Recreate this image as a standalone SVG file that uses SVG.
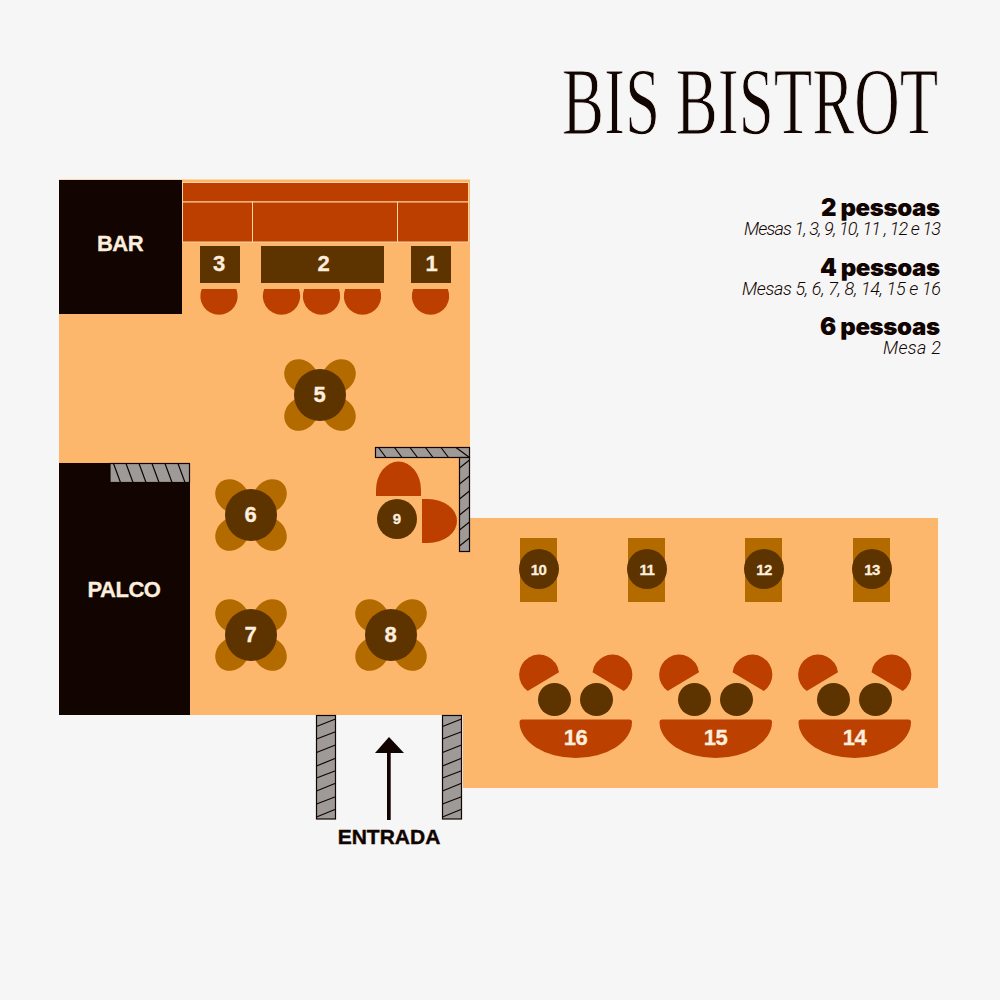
<svg xmlns="http://www.w3.org/2000/svg" width="1000" height="1000" viewBox="0 0 1000 1000">
<style>
.chair{fill:#bc3f00}
.tbl{fill:#5d3300}
.petal{fill:#b36b00}
.wall{fill:#9d9a97;stroke:#120400;stroke-width:1.2}
.hatch{fill:none;stroke:#120400;stroke-width:1.2}
.n{font-family:"Liberation Sans",Arial,sans-serif;font-weight:700;fill:#fdeedd;stroke:#fdeedd;stroke-width:.3;text-anchor:middle}
.big{font-size:22px}
.sm{font-size:15px}
.tight{letter-spacing:-.5px}
.h{font-family:Inter,"Liberation Sans",sans-serif;font-weight:900;font-size:24px;fill:#120400;text-anchor:end}
.i{font-family:Roboto,"Liberation Sans",sans-serif;font-style:italic;font-weight:300;font-size:18px;fill:#120400;text-anchor:end}
</style>
<defs>
<filter id="soft" x="-5%" y="-5%" width="110%" height="110%"><feGaussianBlur stdDeviation="0.7"/></filter>
<g id="petals">
<ellipse class="petal" rx="18" ry="15.500" transform="translate(-19 -19) rotate(45)"/>
<ellipse class="petal" rx="18" ry="15.500" transform="translate(19 -19) rotate(-45)"/>
<ellipse class="petal" rx="18" ry="15.500" transform="translate(-19 19) rotate(-45)"/>
<ellipse class="petal" rx="18" ry="15.500" transform="translate(19 19) rotate(45)"/>
<circle class="tbl" r="26"/>
</g>
<path id="stool" class="chair" d="M-17.300,0A18.700,18.700 0 1 0 17.300,0Z"/>
<g id="booth">
<path class="chair" d="M527.700,691A20,20 0 1 1 559,672.300Z"/>
<path class="chair" d="M592.500,672.300A20,20 0 1 1 623.800,691Z"/>
<circle class="tbl" cx="554.500" cy="699.500" r="16.500"/>
<circle class="tbl" cx="596.500" cy="699.500" r="16.500"/>
<path class="chair" filter="url(#soft)" d="M519.500,722Q519.500,719.500 522,719.500H629.500Q632,719.500 632,722A56.250,36 0 0 1 519.500,722Z"/>
</g>
<path id="rowtable" class="petal" d="M-18.500,-31H18.500V33H-18.500Z"/>
</defs>

<rect width="1000" height="1000" fill="#f6f6f6"/>
<path id="floor" fill="#fdb76d" d="M59,179.500H470V518H938V788H463V715H59Z"/>

<g id="title"><text transform="translate(562 134) scale(.663 1)" font-family="'Liberation Serif',serif" font-size="95" fill="#120400" stroke="#f6f6f6" stroke-width="1.1">BIS BISTROT</text></g>

<g id="legend">
<text class="h" x="940" y="216" textLength="119">2 pessoas</text>
<text class="i" x="941" y="235" textLength="197">Mesas 1, 3, 9, 10, 11 , 12 e 13</text>
<text class="h" x="940" y="276" textLength="120">4 pessoas</text>
<text class="i" x="941" y="295" textLength="199">Mesas 5, 6, 7, 8, 14, 15 e 16</text>
<text class="h" x="940" y="335" textLength="120">6 pessoas</text>
<text class="i" x="941" y="354" textLength="58">Mesa 2</text>
</g>

<g id="bar"><rect x="59" y="180" width="123" height="134" fill="#120400"/><text class="n big tight" x="120" y="250.500">BAR</text></g>
<g id="counter" fill="#bc3f00" stroke="#fdd3a5" stroke-width="1">
<rect x="182.500" y="182.500" width="286" height="19.500"/>
<rect x="182.500" y="202" width="70" height="40"/>
<rect x="252.500" y="202" width="145" height="40"/>
<rect x="397.500" y="202" width="71" height="40"/>
</g>

<g id="table-3"><rect class="tbl" x="200" y="246" width="40" height="37"/><text class="n big" x="219" y="271">3</text><use href="#stool" x="219" y="289"/></g>
<g id="table-2"><rect class="tbl" x="261" y="246" width="123" height="37"/><text class="n big" x="323.500" y="271">2</text><use href="#stool" x="281.500" y="289"/><use href="#stool" x="321.500" y="289"/><use href="#stool" x="362.500" y="289"/></g>
<g id="table-1"><rect class="tbl" x="411" y="246" width="40" height="37"/><text class="n big" x="431.500" y="271">1</text><use href="#stool" x="430.500" y="289"/></g>

<g id="table-5"><use href="#petals" x="320" y="395"/><text class="n big" x="319.500" y="401.500">5</text></g>

<g id="wall-9">
<rect class="wall" x="375.500" y="447.500" width="94" height="10"/>
<rect class="wall" x="459.500" y="457.500" width="10" height="94"/>
<path class="hatch" d="M378.500,447.500L386,457.500M394.500,447.500L402,457.500M410,447.500L417.500,457.500M425.500,447.500L433,457.500M441,447.500L448.500,457.500M456,447.500L469.500,457.500M459.500,468L469.500,460M459.500,484L469.500,476M459.500,499L469.500,491M459.500,515L469.500,507M459.500,530L469.500,522M459.500,546L469.500,538"/>
</g>

<g id="palco"><rect x="59" y="463" width="131" height="252" fill="#120400"/><text class="n big tight" x="124" y="596.500">PALCO</text>
<rect class="wall" x="110" y="463.500" width="79.500" height="19"/>
<path class="hatch" d="M113.500,463.500L120.500,482.500M126,463.500L133,482.500M139,463.500L146,482.500M152,463.500L159,482.500M165,463.500L172,482.500M178,463.500L185,482.500"/>
</g>

<g id="table-6"><use href="#petals" x="251" y="515"/><text class="n big" x="250.500" y="521.500">6</text></g>
<g id="table-7"><use href="#petals" x="251" y="635"/><text class="n big" x="250.500" y="641.500">7</text></g>
<g id="table-8"><use href="#petals" x="391" y="635"/><text class="n big" x="390.500" y="641.500">8</text></g>

<g id="table-9">
<path class="chair" d="M376,496V490A22.500,28.500 0 0 1 421,490V496Z"/>
<path class="chair" d="M422,499H428A29,22 0 0 1 428,543H422Z"/>
<circle class="tbl" cx="397" cy="519" r="20"/>
<text class="n sm" x="397" y="524">9</text>
</g>

<g id="table-10"><use href="#rowtable" x="538.500" y="569"/><circle class="tbl" cx="539" cy="569" r="20"/><text class="n sm tight" x="538.500" y="575">10</text></g>
<g id="table-11"><use href="#rowtable" x="646.500" y="569"/><circle class="tbl" cx="647" cy="569" r="20"/><text class="n sm tight" x="647" y="575">11</text></g>
<g id="table-12"><use href="#rowtable" x="763.500" y="569"/><circle class="tbl" cx="764" cy="569" r="20"/><text class="n sm tight" x="764" y="575">12</text></g>
<g id="table-13"><use href="#rowtable" x="871.500" y="569"/><circle class="tbl" cx="872" cy="569" r="20"/><text class="n sm tight" x="872" y="575">13</text></g>

<g id="table-16"><use href="#booth"/><text class="n big tight" x="575.500" y="745">16</text></g>
<g id="table-15"><use href="#booth" x="140"/><text class="n big tight" x="715.500" y="745">15</text></g>
<g id="table-14"><use href="#booth" x="279"/><text class="n big tight" x="854.500" y="745">14</text></g>

<g id="entrada">
<rect class="wall" x="316.500" y="715.500" width="19" height="103.500"/>
<rect class="wall" x="442.500" y="715.500" width="19" height="103.500"/>
<path class="hatch" d="M316.500,726.500L335.500,719M316.500,739L335.500,731.700M316.500,752.500L335.500,745M316.500,766L335.500,758.300M316.500,778L335.500,770.700M316.500,791L335.500,783.300M316.500,804L335.500,796.700M316.500,817L335.500,809.300M442.500,726.500L461.500,719M442.500,739L461.500,731.700M442.500,752.500L461.500,745M442.500,766L461.500,758.300M442.500,778L461.500,770.700M442.500,791L461.500,783.300M442.500,804L461.500,796.700M442.500,817L461.500,809.300"/>
<path fill="#120400" d="M389,737L404,753H390.700V820H387V753H375Z"/>
<text x="389" y="843.500" font-family="'Liberation Sans',Arial,sans-serif" font-weight="700" font-size="21" fill="#120400" stroke="#120400" stroke-width=".4" text-anchor="middle">ENTRADA</text>
</g>
</svg>
